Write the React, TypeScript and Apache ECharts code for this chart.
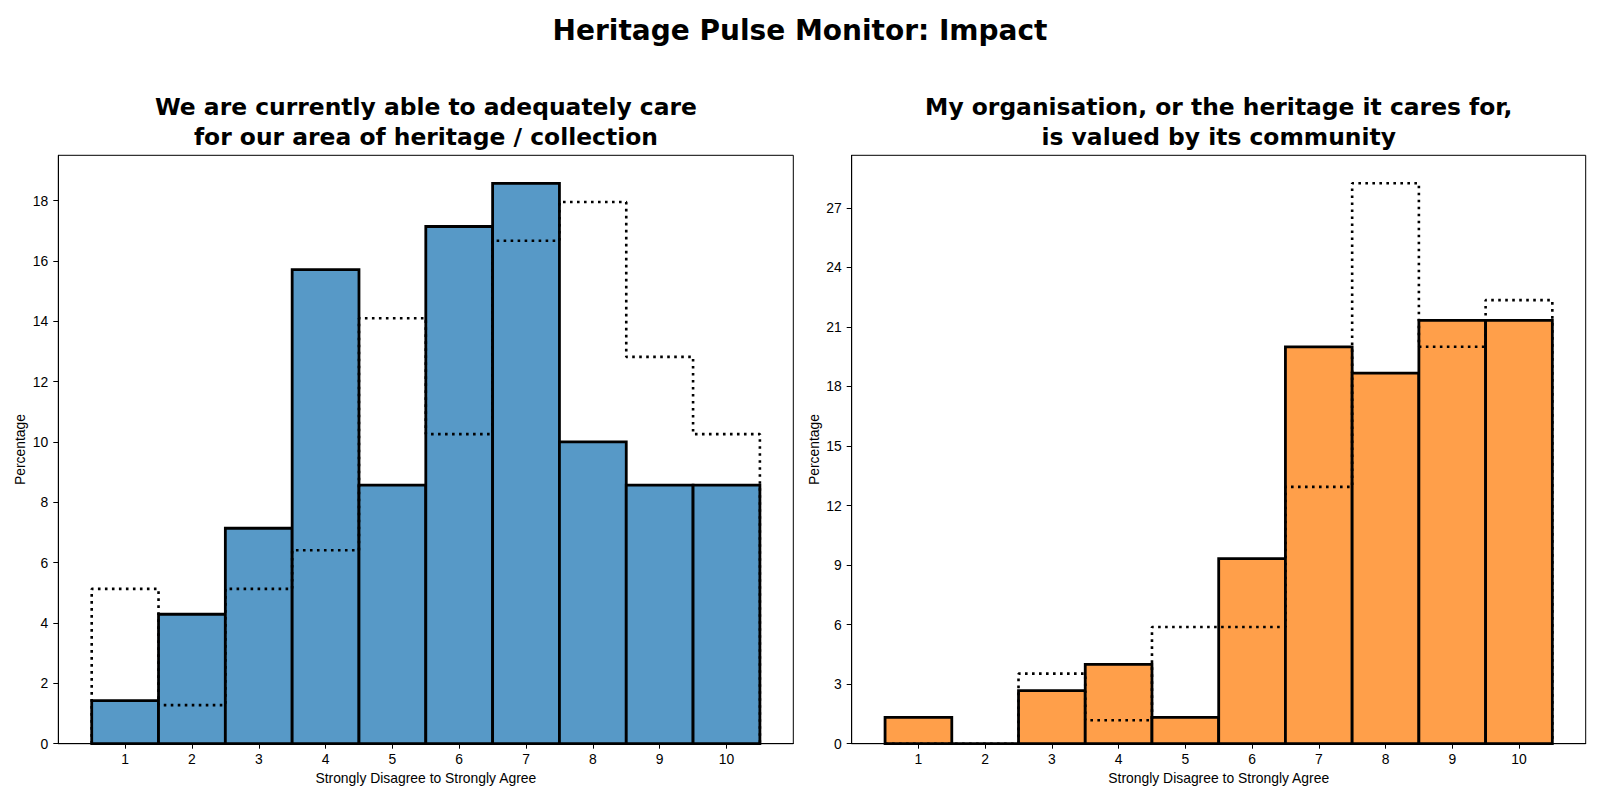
import React, { useEffect, useRef } from "react";
import * as echarts from "echarts";

const scores = [1, 2, 3, 4, 5, 6, 7, 8, 9, 10];

const careCurrent = [1.43, 4.29, 7.14, 15.71, 8.57, 17.14, 18.57, 10.0, 8.57, 8.57];
const careComparison = [5.13, 1.28, 5.13, 6.41, 14.1, 10.26, 16.67, 17.95, 12.82, 10.26];

const valuedCurrent = [1.33, 0, 2.67, 4.0, 1.33, 9.33, 20.0, 18.67, 21.33, 21.33];
const valuedComparison = [0, 0, 3.53, 1.18, 5.88, 5.88, 12.94, 28.24, 20.0, 22.35];

const leftYTicks = [0, 2, 4, 6, 8, 10, 12, 14, 16, 18];
const rightYTicks = [0, 3, 6, 9, 12, 15, 18, 21, 24, 27];

const mainTitle = "Heritage Pulse Monitor: Impact";
const leftTitleLines = ["We are currently able to adequately care", "for our area of heritage / collection"];
const rightTitleLines = ["My organisation, or the heritage it cares for,", "is valued by its community"];
const xName = "Strongly Disagree to Strongly Agree";
const yName = "Percentage";

const TITLE_FONT = "DejaVu Sans";
const TICK_FONT = "Liberation Sans";
const TICK_SIZE = 13.9;

function stepPoints(vals: number[]) {
  const pts: number[][] = [[scores[0] - 0.5, 0]];
  vals.forEach((v, i) => {
    pts.push([scores[i] - 0.5, v]);
    pts.push([scores[i] + 0.5, v]);
  });
  pts.push([scores[scores.length - 1] + 0.5, 0]);
  return pts;
}

function barSeries(idx: number, vals: number[], color: string) {
  return {
    type: "custom",
    xAxisIndex: idx,
    yAxisIndex: idx,
    z: 2,
    data: scores.map((s, i) => [s, vals[i]]),
    renderItem: (params: any, api: any) => {
      const x = api.value(0);
      const v = api.value(1);
      const p0 = api.coord([x - 0.5, v]);
      const p1 = api.coord([x + 0.5, 0]);
      return {
        type: "rect",
        shape: { x: p0[0], y: p0[1], width: p1[0] - p0[0], height: p1[1] - p0[1] },
        style: { fill: color, stroke: "#000", lineWidth: 2.8 },
      };
    },
  };
}

function stepSeries(idx: number, vals: number[]) {
  return {
    type: "line",
    xAxisIndex: idx,
    yAxisIndex: idx,
    z: 5,
    data: stepPoints(vals),
    showSymbol: false,
    symbol: "none",
    lineStyle: { color: "#000", width: 2.6, type: [2.6, 4.4], cap: "butt" },
  };
}

function xAxis(idx: number) {
  return {
    type: "value",
    gridIndex: idx,
    min: 0,
    max: 11,
    interval: 1,
    axisLine: { show: true, onZero: false, lineStyle: { color: "#000", width: 1 } },
    axisTick: { show: true, length: 5, lineStyle: { color: "#000", width: 1 }, customValues: scores },
    axisLabel: { customValues: scores, color: "#000", fontSize: TICK_SIZE, fontFamily: TICK_FONT, margin: 8 },
    splitLine: { show: false },
    name: xName,
    nameLocation: "middle",
    nameGap: 26,
    nameTextStyle: { color: "#000", fontSize: TICK_SIZE, fontFamily: TICK_FONT },
  };
}

function yAxis(idx: number, max: number, ticks: number[]) {
  return {
    type: "value",
    gridIndex: idx,
    min: 0,
    max,
    axisLine: { show: true, lineStyle: { color: "#000", width: 1 } },
    axisTick: { show: true, length: 5, lineStyle: { color: "#000", width: 1 }, customValues: ticks },
    axisLabel: { customValues: ticks, color: "#000", fontSize: TICK_SIZE, fontFamily: TICK_FONT, margin: 10 },
    splitLine: { show: false },
    name: yName,
    nameLocation: "middle",
    nameGap: 31,
    nameTextStyle: { color: "#000", fontSize: TICK_SIZE, fontFamily: TICK_FONT },
  };
}

function subTitles(lines: string[], cx: number) {
  return lines.map((line, i) => ({
    text: line,
    left: cx,
    top: 93 + i * 29.6,
    padding: 0,
    textAlign: "center",
    textStyle: {
      fontSize: 23.4,
      fontWeight: "bold",
      fontFamily: TITLE_FONT,
      color: "#000",
      lineHeight: 28,
    },
  }));
}

export default function App() {
  const ref = useRef<HTMLDivElement>(null);
  useEffect(() => {
    if (!ref.current) return;
    const chart = echarts.init(ref.current, null, { renderer: "svg" });
    chart.setOption({
      animation: false,
      backgroundColor: "#fff",
      title: [
        {
          text: mainTitle,
          left: 800,
          top: 13.6,
          padding: 0,
          textAlign: "center",
          textStyle: { fontSize: 28, fontWeight: "bold", fontFamily: TITLE_FONT, color: "#000", lineHeight: 34 },
        },
        ...subTitles(leftTitleLines, 425.9),
        ...subTitles(rightTitleLines, 1218.7),
      ],
      grid: [
        { left: 58.3, top: 155.3, width: 735, height: 588.4, show: true, borderColor: "#000", borderWidth: 1, backgroundColor: "transparent" },
        { left: 851.7, top: 155.3, width: 734, height: 588.4, show: true, borderColor: "#000", borderWidth: 1, backgroundColor: "transparent" },
      ],
      xAxis: [xAxis(0), xAxis(1)],
      yAxis: [yAxis(0, 19.5, leftYTicks), yAxis(1, 29.65, rightYTicks)],
      series: [
        barSeries(0, careCurrent, "#5799C7"),
        stepSeries(0, careComparison),
        barSeries(1, valuedCurrent, "#FF9F4A"),
        stepSeries(1, valuedComparison),
      ],
    });
    return () => chart.dispose();
  }, []);
  return (
    <div
      ref={ref}
      style={{ position: "fixed", left: 0, top: 0, width: 1600, height: 800, background: "#fff" }}
    />
  );
}
